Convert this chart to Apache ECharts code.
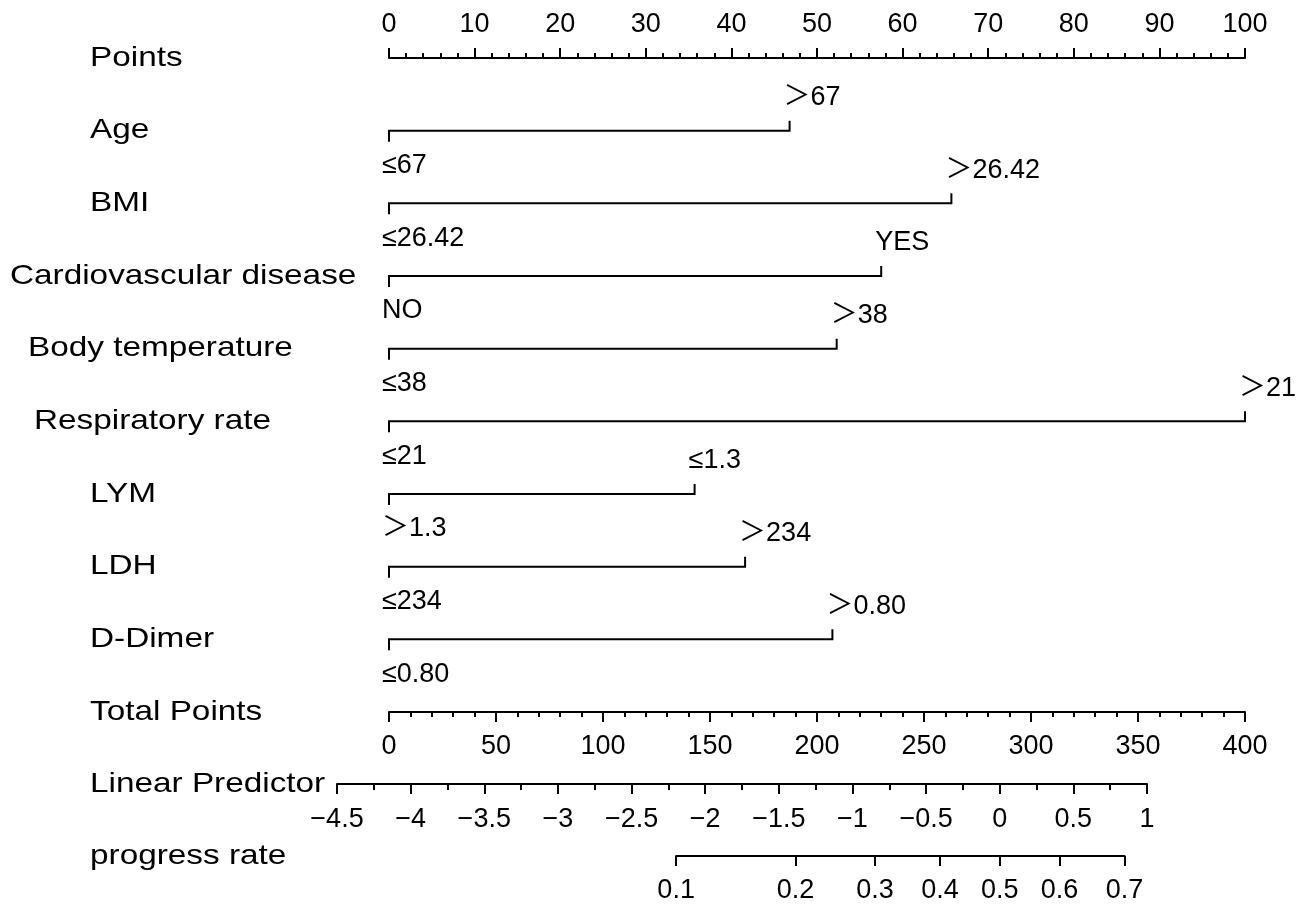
<!DOCTYPE html>
<html>
<head>
<meta charset="utf-8">
<script src="https://cdn.jsdelivr.net/npm/echarts@6/dist/echarts.min.js"></script>
<style>
html,body{margin:0;padding:0;background:#fff;}
#chart{width:1308px;height:905px;}
</style>
</head>
<body>
<div id="chart"></div>
<script>
// ---- data ----
const factorNames = ['Age', 'BMI', 'Cardiovascular disease', 'Body temperature', 'Respiratory rate', 'LYM', 'LDH', 'D-Dimer'];
const lowLevels  = ['≤67', '≤26.42', 'NO', '≤38', '≤21', '＞1.3', '≤234', '≤0.80'];
const highLevels = ['＞67', '＞26.42', 'YES', '＞38', '＞21', '≤1.3', '＞234', '＞0.80'];
const highPoints = [46.8, 65.7, 57.5, 52.3, 100, 35.7, 41.6, 51.8];
const progressTicks = [0.1, 0.2, 0.3, 0.4, 0.5, 0.6, 0.7];
const scaleNames = ['Points', 'Total Points', 'Linear Predictor', 'progress rate'];

// ---- layout ----
const FONT = "'Liberation Sans', Arial, 'Noto Sans CJK SC', sans-serif";
const BLACK = '#000';
const TICK_FONT = 27;
const mainTop = 58, mainBottomY = 712;
const plotLeft = 389, plotRight = 1245;
const lpLeft = 337, lpRight = 1147, lpMin = -4.5, lpMax = 1;
const lpY = 784, prY = 856;
const rowStep = (mainBottomY - mainTop) / 9;
const nameLeft = {'Cardiovascular disease': 10, 'Body temperature': 28, 'Respiratory rate': 34};

const logit = p => Math.log(p / (1 - p));
const prPos = progressTicks.map(logit);
const lpToPx = v => lpLeft + (v - lpMin) * (lpRight - lpLeft) / (lpMax - lpMin);

const minus = v => String(v).replace('-', '\u2212');

function labelStyle(extra) {
  return Object.assign({color: BLACK, fontSize: TICK_FONT, fontFamily: FONT, margin: 21,
    showMinLabel: true, showMaxLabel: true, hideOverlap: false}, extra);
}
function axisCommon(extra) {
  return Object.assign({
    type: 'value',
    axisLine: {show: true, onZero: false, lineStyle: {color: BLACK, width: 2}},
    axisTick: {show: true, length: 10, lineStyle: {color: BLACK, width: 2}},
    splitLine: {show: false},
    minorSplitLine: {show: false},
    axisLabel: labelStyle({})
  }, extra);
}

const chart = echarts.init(document.getElementById('chart'), null, {renderer: 'canvas'});

// name labels
const allNames = ['Points'].concat(factorNames, ['Total Points', 'Linear Predictor', 'progress rate']);
const nameYs = [mainTop].concat(factorNames.map((_, i) => mainTop + (i + 1) * rowStep), [mainBottomY, lpY, prY]);
const graphics = allNames.map((n, i) => ({
  type: 'text',
  x: (nameLeft[n] !== undefined ? nameLeft[n] : 90),
  y: nameYs[i],
  scaleX: 1.19,
  style: {text: n, fill: BLACK, fontSize: 28, fontFamily: FONT, align: 'left', verticalAlign: 'middle'},
  silent: true
}));

const option = {
  backgroundColor: '#fff',
  animation: false,
  grid: [
    {left: plotLeft, right: 1308 - plotRight, top: mainTop, height: mainBottomY - mainTop},
    {left: lpLeft, right: 1308 - lpRight, top: lpY - 24, height: 24},
    {left: lpToPx(prPos[0]), right: 1308 - lpToPx(prPos[prPos.length - 1]), top: prY - 24, height: 24}
  ],
  xAxis: [
    axisCommon({gridIndex: 0, position: 'top', min: 0, max: 100, interval: 10,
      minorTick: {show: true, splitNumber: 5, length: 5, lineStyle: {color: BLACK, width: 2}},
      axisLabel: labelStyle({margin: 20})}),
    axisCommon({gridIndex: 0, position: 'bottom', min: 0, max: 400, interval: 50,
      minorTick: {show: true, splitNumber: 5, length: 5, lineStyle: {color: BLACK, width: 2}}}),
    axisCommon({gridIndex: 1, position: 'bottom', min: lpMin, max: lpMax, interval: 0.5,
      minorTick: {show: true, splitNumber: 2, length: 6, lineStyle: {color: BLACK, width: 2}},
      axisLabel: labelStyle({margin: 22, formatter: minus})}),
    axisCommon({gridIndex: 2, position: 'bottom', min: prPos[0], max: prPos[prPos.length - 1],
      axisTick: {show: true, length: 10, customValues: prPos, lineStyle: {color: BLACK, width: 2}},
      axisLabel: labelStyle({margin: 21, customValues: prPos,
        formatter: v => {
          let best = 0;
          prPos.forEach((p, i) => { if (Math.abs(p - v) < Math.abs(prPos[best] - v)) best = i; });
          return String(progressTicks[best]);
        }})})
  ],
  yAxis: [
    {type: 'value', gridIndex: 0, min: 0, max: 9, inverse: true, show: false},
    {type: 'value', gridIndex: 1, min: 0, max: 1, show: false},
    {type: 'value', gridIndex: 2, min: 0, max: 1, show: false}
  ],
  series: [{
    type: 'custom',
    xAxisIndex: 0,
    yAxisIndex: 0,
    clip: false,
    silent: true,
    data: highPoints.map((v, i) => [i + 1, v]),
    renderItem: function (params, api) {
      const row = api.value(0), end = api.value(1);
      const p0 = api.coord([0, row]);
      const p1 = api.coord([end, row]);
      const i = params.dataIndex;
      return {
        type: 'group',
        children: [
          {type: 'polyline', shape: {points: [[p0[0], p0[1] + 11], [p0[0], p0[1]], [p1[0], p1[1]], [p1[0], p1[1] - 10]]},
            style: {stroke: BLACK, lineWidth: 2, fill: null}},
          {type: 'text', x: p0[0] - 7, y: p0[1] + 35,
            style: {text: lowLevels[i], fill: BLACK, fontSize: TICK_FONT, fontFamily: FONT, align: 'left', verticalAlign: 'middle'}},
          {type: 'text', x: p1[0] - 6, y: p1[1] - 33,
            style: {text: highLevels[i], fill: BLACK, fontSize: TICK_FONT, fontFamily: FONT, align: 'left', verticalAlign: 'middle'}}
        ]
      };
    }
  }],
  graphic: graphics
};
chart.setOption(option);
</script>
</body>
</html>
